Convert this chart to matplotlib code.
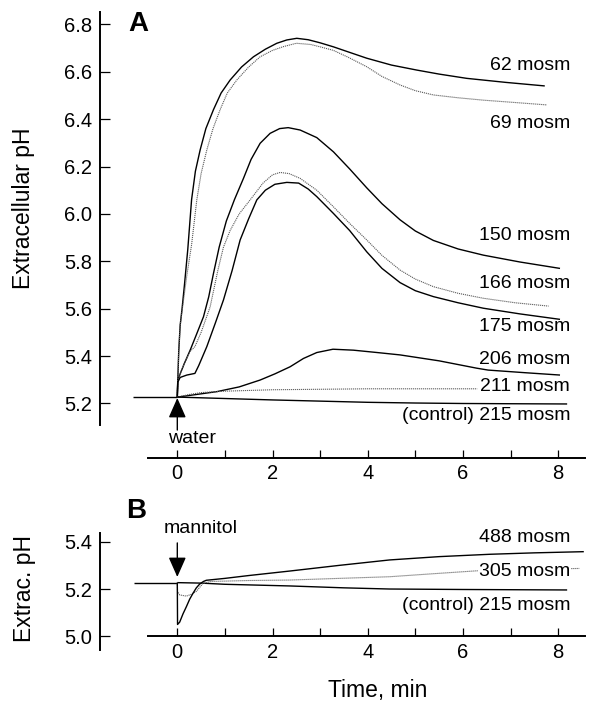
import matplotlib
matplotlib.use("Agg")
import matplotlib.pyplot as plt

plt.rcParams['font.family'] = ['Liberation Sans', 'DejaVu Sans']

# ---------------- data: panel A (water) ----------------
t_base = [-0.93, 0.0]
ph_base = [5.227, 5.227]

t_62 = [0, 0.01, 0.03, 0.06, 0.10, 0.15, 0.22, 0.30, 0.38, 0.48, 0.60, 0.76, 0.92, 1.11, 1.35, 1.60,
        1.85, 2.09, 2.30, 2.51, 2.75, 3.0, 3.28, 3.6, 3.98, 4.5, 5.03, 5.5, 6.08, 6.9, 7.72]
ph_62 = [5.227, 5.30, 5.42, 5.53, 5.60, 5.70, 5.85, 6.06, 6.18, 6.27, 6.36, 6.44, 6.51, 6.565, 6.62, 6.663,
         6.695, 6.72, 6.734, 6.741, 6.735, 6.722, 6.705, 6.683, 6.657, 6.628, 6.607, 6.59, 6.572, 6.555, 6.54]

t_69 = [0, 0.01, 0.03, 0.06, 0.12, 0.2, 0.30, 0.41, 0.5, 0.62, 0.75, 0.9, 1.05, 1.25, 1.5, 1.74, 2.0,
        2.23, 2.5, 2.8, 3.0, 3.28, 3.6, 3.98, 4.3, 4.68, 5.0, 5.38, 5.9, 6.43, 7.1, 7.76]
ph_69 = [5.227, 5.30, 5.42, 5.53, 5.62, 5.74, 5.87, 6.06, 6.17, 6.27, 6.36, 6.44, 6.51, 6.565, 6.62, 6.663, 6.69,
         6.706, 6.72, 6.715, 6.705, 6.69, 6.66, 6.621, 6.58, 6.544, 6.52, 6.502, 6.49, 6.48, 6.47, 6.46]

t_150 = [0, 0.01, 0.15, 0.27, 0.4, 0.55, 0.66, 0.76, 0.88, 1.03, 1.2, 1.39, 1.55, 1.74, 1.95, 2.15, 2.33,
         2.58, 2.93, 3.28, 3.62, 3.98, 4.3, 4.68, 5.0, 5.38, 5.9, 6.43, 7.2, 8.04]
ph_150 = [5.227, 5.30, 5.37, 5.425, 5.49, 5.566, 5.65, 5.749, 5.86, 5.97, 6.06, 6.15, 6.23, 6.298, 6.34, 6.36, 6.364,
          6.354, 6.322, 6.262, 6.19, 6.11, 6.043, 5.975, 5.928, 5.888, 5.852, 5.826, 5.797, 5.77]

t_166 = [0, 0.01, 0.15, 0.27, 0.37, 0.5, 0.69, 0.85, 0.97, 1.11, 1.3, 1.53, 1.8, 2.0, 2.16, 2.35, 2.58,
         2.93, 3.28, 3.62, 3.98, 4.3, 4.68, 5.0, 5.38, 5.9, 6.43, 7.1, 7.8]
ph_166 = [5.227, 5.30, 5.37, 5.42, 5.44, 5.50, 5.608, 5.76, 5.86, 5.93, 6.0, 6.059, 6.13, 6.165, 6.175, 6.17, 6.15,
          6.10, 6.03, 5.96, 5.89, 5.825, 5.763, 5.725, 5.693, 5.665, 5.644, 5.625, 5.611]

t_175 = [0, 0.01, 0.06, 0.2, 0.37, 0.45, 0.62, 0.8, 0.97, 1.15, 1.32, 1.5, 1.67, 1.85, 2.05, 2.3, 2.55,
         2.75, 2.93, 3.28, 3.62, 3.98, 4.3, 4.68, 5.0, 5.38, 5.9, 6.43, 7.2, 8.04]
ph_175 = [5.227, 5.29, 5.31, 5.32, 5.327, 5.36, 5.44, 5.54, 5.637, 5.76, 5.89, 5.98, 6.059, 6.10, 6.125, 6.133, 6.13,
          6.105, 6.073, 6.002, 5.93, 5.84, 5.77, 5.71, 5.676, 5.651, 5.625, 5.602, 5.578, 5.555]

t_206 = [0, 0.4, 0.83, 1.3, 1.74, 2.05, 2.37, 2.65, 2.93, 3.27, 3.7, 4.2, 4.68, 5.5, 6.29, 6.53, 7.3, 8.04]
ph_206 = [5.227, 5.238, 5.25, 5.27, 5.299, 5.325, 5.355, 5.39, 5.415, 5.429, 5.425, 5.415, 5.405, 5.38, 5.349,
          5.341, 5.33, 5.32]

t_211 = [0, 0.25, 0.5, 1.0, 2.0, 4.0, 6.3]
ph_211 = [5.227, 5.238, 5.246, 5.252, 5.258, 5.262, 5.262]

t_215a = [0, 1, 2, 3, 4, 5, 6, 7, 8.19]
ph_215a = [5.227, 5.221, 5.215, 5.21, 5.205, 5.202, 5.2, 5.199, 5.198]

labels_a = ["62 mosm", "69 mosm", "150 mosm", "166 mosm", "175 mosm", "206 mosm", "211 mosm",
            "(control) 215 mosm"]
label_y_a = [6.628, 6.383, 5.907, 5.708, 5.523, 5.384, 5.270, 5.151]

# ---------------- data: panel B (mannitol) ----------------
t_base_b = [-0.91, 0.0]
ph_base_b = [5.227, 5.227]

t_488 = [0, 0.005, 0.05, 0.12, 0.19, 0.26, 0.33, 0.4, 0.47, 0.55, 0.61, 1.0, 1.5, 2.36, 3.4, 4.46, 5.5,
         6.57, 7.5, 8.54]
ph_488 = [5.227, 5.05, 5.06, 5.095, 5.125, 5.157, 5.182, 5.205, 5.221, 5.232, 5.237, 5.245, 5.257, 5.276, 5.30,
          5.323, 5.337, 5.347, 5.353, 5.358]

t_305 = [0, 0.005, 0.05, 0.19, 0.3, 0.4, 0.54, 0.7, 1.5, 2.36, 3.4, 4.46, 5.4, 6.29, 7.3, 8.45]
ph_305 = [5.227, 5.19, 5.175, 5.17, 5.178, 5.19, 5.224, 5.232, 5.236, 5.238, 5.245, 5.252, 5.265, 5.277, 5.283,
          5.287]

t_215b = [0, 0.5, 1, 2.36, 3.5, 4.46, 6, 8.19]
ph_215b = [5.227, 5.225, 5.22, 5.213, 5.205, 5.20, 5.198, 5.196]

labels_b = ["488 mosm", "305 mosm", "(control) 215 mosm"]
label_y_b = [5.416, 5.272, 5.132]

xticks_major = [0, 2, 4, 6, 8]
xticks_minor = [1, 3, 5, 7]
yticks_a = [5.2, 5.4, 5.6, 5.8, 6.0, 6.2, 6.4, 6.6, 6.8]
yticks_b = [5.0, 5.2, 5.4]

# ---------------- figure ----------------
W, H = 591, 701
fig = plt.figure(figsize=(W / 100, H / 100), dpi=100)

def px_axes(l, r, t, b):
    return fig.add_axes([l / W, 1 - b / H, (r - l) / W, (b - t) / H])

axA = px_axes(100, 585, 12, 458)
axB = px_axes(100, 585, 533, 650)

solid = dict(color='black', lw=1.0, solid_capstyle='butt')
dotted = dict(color='0.35', lw=0.8, linestyle=(0, (1, 0.8)))

xl = (-1.624, 8.565)

def style(ax, ylim, yticks, ybounds, xpos):
    ax.set_xlim(*xl)
    ax.set_ylim(*ylim)
    for s in ['top', 'right']:
        ax.spines[s].set_visible(False)
    for s in ['left', 'bottom']:
        ax.spines[s].set_linewidth(1.4)
    ax.spines['bottom'].set_bounds(-0.62, xl[1])
    ax.spines['bottom'].set_position(('data', xpos))
    ax.spines['left'].set_bounds(*ybounds)
    ax.set_xticks(xticks_major)
    ax.set_xticks(xticks_minor, minor=True)
    ax.set_yticks(yticks)
    ax.set_yticklabels([f"{v:.1f}" for v in yticks])
    ax.tick_params(axis='x', which='both', direction='in', length=5.8, width=0.9,
                   labelsize=14.5, pad=4.5)
    ax.tick_params(axis='y', which='both', direction='in', length=7.2, width=0.9,
                   labelsize=14.5, pad=5.5)
    ax.patch.set_visible(False)

style(axA, (4.970, 6.852), yticks_a, (5.109, 6.852), 4.970)
style(axB, (4.942, 5.437), yticks_b, (4.942, 5.437), 5.0)

# panel A curves
axA.plot(t_base, ph_base, **solid)
axA.plot(t_62, ph_62, **solid)
axA.plot(t_69, ph_69, **dotted)
axA.plot(t_150, ph_150, **solid)
axA.plot(t_166, ph_166, **dotted)
axA.plot(t_175, ph_175, **solid)
axA.plot(t_206, ph_206, **solid)
axA.plot(t_211, ph_211, **dotted)
axA.plot(t_215a, ph_215a, **solid)

for lab, y in zip(labels_a, label_y_a):
    axA.text(8.25, y, lab, ha='right', va='center', fontsize=14, clip_on=False)

# water arrow
axA.annotate("", xy=(0, 5.223), xytext=(0, 5.088),
             arrowprops=dict(arrowstyle='-|>,head_length=0.61,head_width=0.27', lw=1.0,
                             color='black', shrinkA=0, shrinkB=0, mutation_scale=20))
axA.text(0.3, 5.054, "water", ha='center', va='center', fontsize=14, clip_on=False)

# panel B curves
axB.plot(t_base_b, ph_base_b, **solid)
axB.plot(t_215b, ph_215b, **solid)
axB.plot(t_305, ph_305, **dotted)
axB.plot(t_488, ph_488, **solid)

for lab, y in zip(labels_b, label_y_b):
    bb = dict(facecolor='white', edgecolor='none', pad=0.5) if lab.startswith("305") else None
    axB.text(8.25, y, lab, ha='right', va='center', fontsize=14, clip_on=False, bbox=bb)

axB.annotate("", xy=(0, 5.251), xytext=(0, 5.395),
             arrowprops=dict(arrowstyle='-|>,head_length=0.61,head_width=0.27', lw=1.0,
                             color='black', shrinkA=0, shrinkB=0, mutation_scale=20),
             annotation_clip=False)
axB.text(0.5, 5.454, "mannitol", ha='center', va='center', fontsize=14, clip_on=False)

# panel letters and axis labels
fig.text(128 / W, 1 - 31 / H, "A", fontsize=20, fontweight='bold', ha='left', va='baseline')
fig.text(126 / W, 1 - 518 / H, "B", fontsize=20, fontweight='bold', ha='left', va='baseline')
fig.text(24 / W, 1 - 208 / H, "Extracellular pH", rotation=90, ha='center', va='center', fontsize=16.5)
fig.text(25 / W, 1 - 588 / H, "Extrac. pH", rotation=90, ha='center', va='center', fontsize=16.5)
fig.text(378 / W, 1 - 690 / H, "Time, min", ha='center', va='center', fontsize=16.5)

fig.savefig("out.png", dpi=100)
